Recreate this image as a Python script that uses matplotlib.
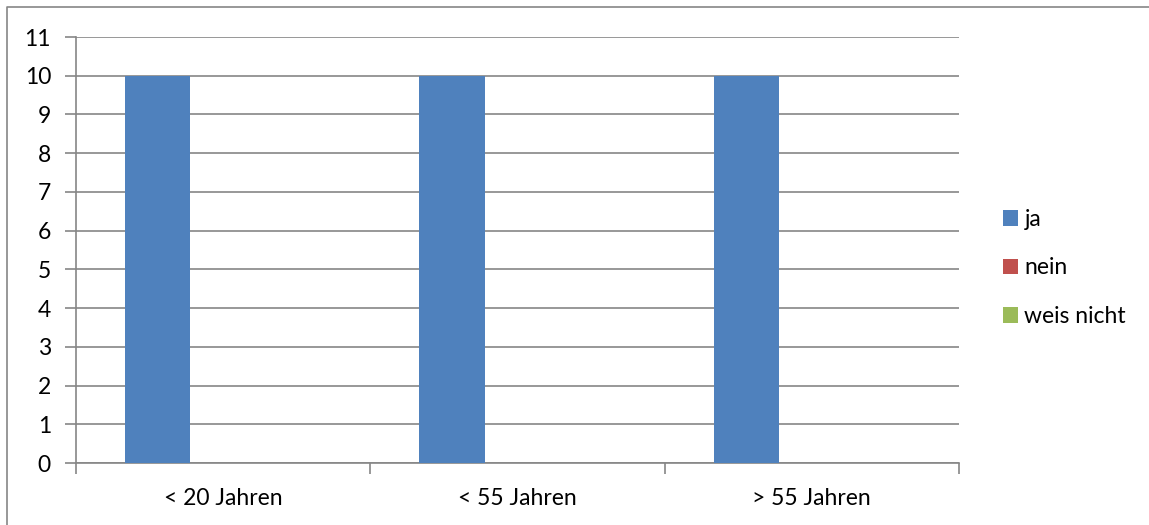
import numpy as np
import matplotlib.pyplot as plt
from matplotlib.lines import Line2D

categories = ["< 20 Jahren", "< 55 Jahren", "> 55 Jahren"]
series = ["ja", "nein", "weis nicht"]
ja = [10, 10, 10]
nein = [0, 0, 0]
weis_nicht = [0, 0, 0]
colors = ["#4F81BD", "#C0504D", "#9BBB59"]

plt.rcParams['font.family'] = ['Lato', 'DejaVu Sans']

fig = plt.figure(figsize=(11.49, 5.25), dpi=100)
ax = fig.add_axes([76 / 1149, 1 - 463 / 525, (959 - 76) / 1149, (463 - 37) / 525])

x = np.arange(len(categories))
w = 1 / 4.5
for i, (name, vals) in enumerate(zip(series, [ja, nein, weis_nicht])):
    ax.bar(x + (i - 1) * w, vals, w, color=colors[i], label=name, zorder=3)

grid_c = "#868686"
fs = 16.5
ax.set_xlim(-0.5, len(categories) - 0.5)
ax.set_ylim(0, 11)
ax.set_yticks(range(0, 12))
ax.yaxis.grid(True, color=grid_c, linewidth=1.2, zorder=0)
ax.set_xticks(x)
ax.set_xticklabels(categories)
ax.set_xticks(np.arange(-0.5, len(categories)), minor=True)
ax.tick_params(axis='x', which='major', length=0, pad=18, labelsize=fs, labelcolor='black')
ax.tick_params(axis='x', which='minor', length=8, width=1.2, color=grid_c)
ax.tick_params(axis='y', length=8, width=1.2, color=grid_c, pad=10, labelsize=fs)
for s in ['top', 'right']:
    ax.spines[s].set_visible(False)
for s in ['left', 'bottom']:
    ax.spines[s].set_color(grid_c)
    ax.spines[s].set_linewidth(1.2)

ax.legend(loc='center left', bbox_to_anchor=(982 / 1149, 1 - 268 / 525),
          bbox_transform=fig.transFigure, frameon=False, fontsize=fs,
          handlelength=0.65, handleheight=0.65, handletextpad=0.3, labelspacing=1.2)

# outer chart border (only top and left are visible)
fig.add_artist(Line2D([7 / 1149, 7 / 1149, 1], [0, 1 - 7 / 525, 1 - 7 / 525],
                      transform=fig.transFigure, color=grid_c, linewidth=1.2))

fig.savefig("out.png", dpi=100)
